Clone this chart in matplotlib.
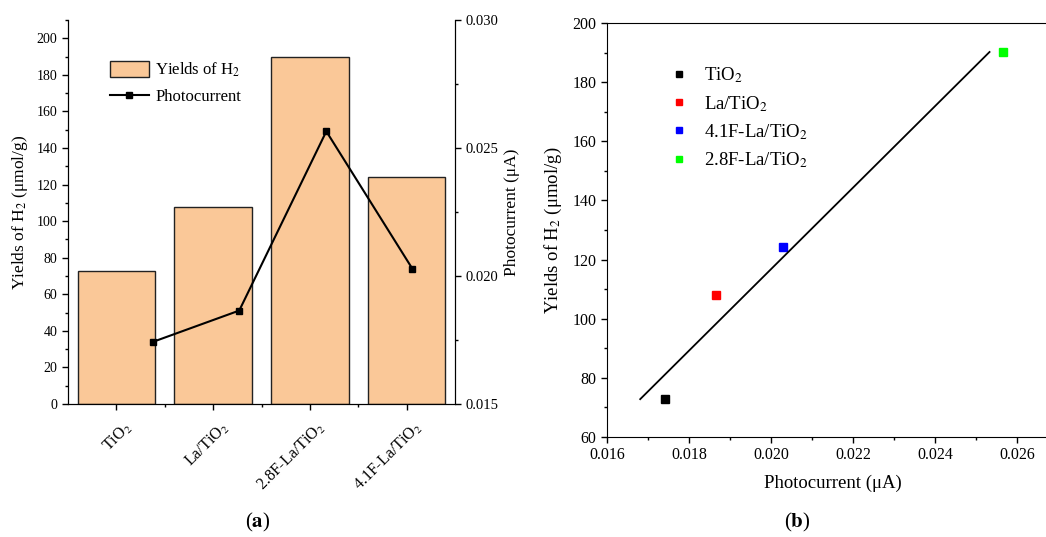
import numpy as np
import matplotlib
matplotlib.use("Agg")
import matplotlib.pyplot as plt
from matplotlib.ticker import MultipleLocator, FormatStrFormatter
from matplotlib.transforms import ScaledTranslation

plt.rcParams['font.family'] = ['Liberation Serif', 'DejaVu Serif']
plt.rcParams['mathtext.fontset'] = 'stix'

# Data
samples = ['TiO$_2$', 'La/TiO$_2$', '2.8F-La/TiO$_2$', '4.1F-La/TiO$_2$']
yields = [72.7, 107.7, 190.0, 124.0]
photocurrent = [0.01743, 0.01865, 0.02565, 0.02028]
photocurrent_pos = [0.38, 1.27, 2.17, 3.06]

scatter_labels = ['TiO$_2$', 'La/TiO$_2$', '4.1F-La/TiO$_2$', '2.8F-La/TiO$_2$']
scatter_x = [0.01742, 0.01866, 0.02030, 0.02566]
scatter_y = [72.8, 108.0, 124.2, 190.2]
scatter_colors = ['#000000', '#ff0000', '#0000ff', '#00ff00']
fit_x = [0.01681, 0.02533]
fit_y = [72.8, 190.2]

W, H = 1046, 537
fig = plt.figure(figsize=(W / 100, H / 100), dpi=100)

def box(x0, y0, x1, y1):
    return [x0 / W, 1 - y1 / H, (x1 - x0) / W, (y1 - y0) / H]

# (a) bars + photocurrent
ax = fig.add_axes(box(68, 20, 455, 404))
pos = np.arange(len(samples))
bars = ax.bar(pos, yields, width=0.8, color='#FAC898', edgecolor='#222222', linewidth=1.0)
ax.set_xlim(-0.5, 3.5)
ax.set_ylim(0, 210)
ax.set_xticks(pos)
ax.set_xticks(pos[:-1] + 0.5, minor=True)
ax.set_xticklabels([])
# rotated category labels, nudged right of the ticks like the original
shift = ScaledTranslation(0.07, -0.15, fig.dpi_scale_trans)
for p, name in zip(pos, samples):
    ax.text(p, 0, name, rotation=45, ha='right', va='top', rotation_mode='anchor',
            fontsize=11.5, transform=ax.get_xaxis_transform() + shift)
ax.yaxis.set_major_locator(MultipleLocator(20))
ax.yaxis.set_minor_locator(MultipleLocator(10))
ax.set_ylabel('Yields of H$_2$ (μmol/g)', fontsize=12.5, labelpad=5)
ax.spines['top'].set_visible(False)
ax.tick_params(direction='out', labelsize=10, width=1, length=4)
ax.tick_params(which='minor', direction='out', length=2.5, width=1)

ax2 = ax.twinx()
line, = ax2.plot(photocurrent_pos, photocurrent, color='black', marker='s', markersize=5,
                 linewidth=1.5)
ax2.set_ylim(0.015, 0.030)
ax2.yaxis.set_major_locator(MultipleLocator(0.005))
ax2.yaxis.set_minor_locator(MultipleLocator(0.0025))
ax2.yaxis.set_major_formatter(FormatStrFormatter('%.3f'))
ax2.set_ylabel('Photocurrent (μA)', fontsize=12.5, labelpad=4)
ax2.spines['top'].set_visible(False)
ax2.tick_params(direction='out', labelsize=10.5, width=1, length=4)
ax2.tick_params(which='minor', direction='out', length=2.5, width=1)
ax.legend([bars, line], ['Yields of H$_2$', 'Photocurrent'], loc='upper left',
          bbox_to_anchor=(0.092, 0.911), frameon=False, fontsize=12,
          handlelength=2.3, handleheight=1.15, handletextpad=0.4,
          borderaxespad=0, labelspacing=0.5)

# (b) scatter + fit
bx = fig.add_axes(box(607, 23, 1058, 437))
for lx, ly, c, lab in zip(scatter_x, scatter_y, scatter_colors, scatter_labels):
    bx.plot(lx, ly, marker='s', color=c, markersize=5.5, linestyle='none', label=lab)
bx.plot(fit_x, fit_y, color='black', linewidth=1.3)
bx.set_xlim(0.016, 0.027)
bx.set_ylim(60, 200)
bx.xaxis.set_major_locator(MultipleLocator(0.002))
bx.xaxis.set_minor_locator(MultipleLocator(0.001))
bx.xaxis.set_major_formatter(FormatStrFormatter('%.3f'))
bx.yaxis.set_major_locator(MultipleLocator(20))
bx.yaxis.set_minor_locator(MultipleLocator(10))
bx.spines['right'].set_visible(False)
bx.tick_params(direction='out', labelsize=11.5, width=1, length=4)
bx.tick_params(which='minor', direction='out', length=2.5, width=1)
bx.set_xlabel('Photocurrent (μA)', fontsize=13.5, labelpad=8)
bx.set_ylabel('Yields of H$_2$ (μmol/g)', fontsize=13.5, labelpad=6)
bx.legend(loc='upper left', bbox_to_anchor=(0.117, 0.915), frameon=False, fontsize=13.5,
          handlelength=1.2, handletextpad=0.77, borderaxespad=0, labelspacing=0.45,
          markerscale=0.9)

fig.text(258 / W, 1 - 522 / H, '($\\mathbf{a}$)', fontsize=15, ha='center', va='center')
fig.text(797 / W, 1 - 522 / H, '($\\mathbf{b}$)', fontsize=15, ha='center', va='center')

fig.savefig('out.png', dpi=100)
